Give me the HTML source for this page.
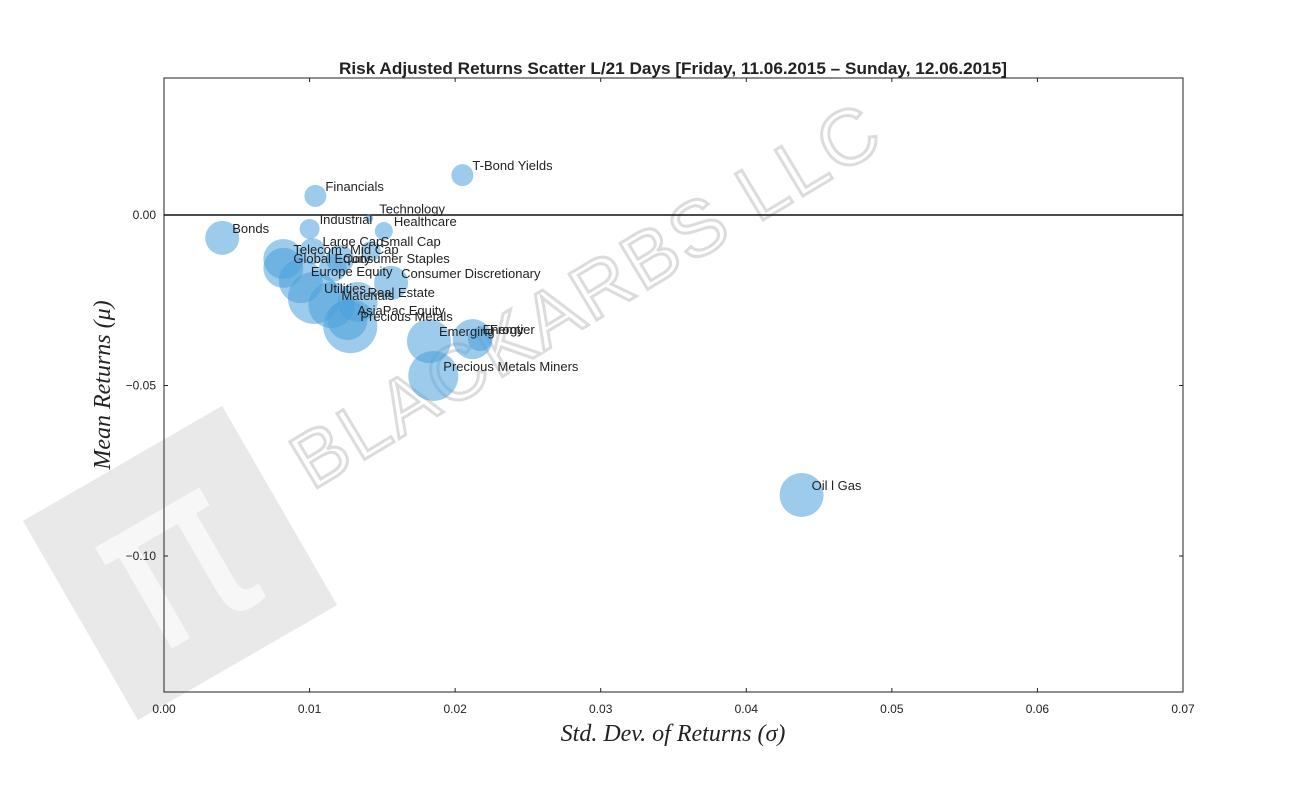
<!DOCTYPE html>
<html><head><meta charset="utf-8"><style>
body{margin:0;background:#fff}
svg{display:block;font-family:"Liberation Sans",sans-serif}
</style></head><body>
<svg id="chart" width="1314" height="792">
<g transform="translate(180,563) rotate(-30)">
<rect x="-115" y="-115" width="230" height="230" fill="#e9e9e9"/>
<text x="-5" y="70" text-anchor="middle" font-family="DejaVu Sans,sans-serif" font-size="230" fill="#f7f7f7">π</text>
</g>
<text transform="translate(600,318) rotate(-31)" text-anchor="middle" font-size="78" fill="none" stroke="#dcdcdc" stroke-width="3" letter-spacing="3">BLACKARBS LLC</text>
<text x="673" y="74" text-anchor="middle" font-size="17" font-weight="bold" fill="#222" textLength="668" lengthAdjust="spacingAndGlyphs">Risk Adjusted Returns Scatter L/21 Days [Friday, 11.06.2015 – Sunday, 12.06.2015]</text>
<rect x="164" y="78" width="1019" height="614" fill="none" stroke="#222" stroke-width="1"/>
<g id="axes"></g>
<g id="marks"></g>
<g id="labels"></g>
<text x="673" y="741" text-anchor="middle" font-family="Liberation Serif,serif" font-style="italic" font-size="24" fill="#222">Std. Dev. of Returns  (σ)</text>
<text transform="translate(110,385) rotate(-90)" text-anchor="middle" font-family="Liberation Serif,serif" font-style="italic" font-size="24" fill="#222">Mean Returns  (μ)</text>
</svg>
<script>
const names=["T-Bond Yields","Financials","Technology","Healthcare","Industrial","Bonds","Large Cap","Small Cap","Telecom","Mid Cap","Global Equity","Consumer Staples","Europe Equity","Consumer Discretionary","Utilities","Real Estate","Materials","AsiaPac Equity","Precious Metals","Emerging","Energy","Frontier","Precious Metals Miners","Oil l Gas"];
const stdDev=[0.0205,0.0104,0.0141,0.0151,0.0100,0.0040,0.0102,0.0142,0.0082,0.0121,0.0082,0.0116,0.0094,0.0156,0.0103,0.0133,0.0115,0.0126,0.0128,0.0182,0.0212,0.0217,0.0185,0.0438];
const meanRet=[0.0117,0.0056,-0.0010,-0.0047,-0.0041,-0.0067,-0.0106,-0.0106,-0.0129,-0.0129,-0.0155,-0.0155,-0.0194,-0.0199,-0.0243,-0.0255,-0.0264,-0.0308,-0.0326,-0.0370,-0.0364,-0.0364,-0.0472,-0.0821];
const sizes=[11,11,4,9,10,17,13,10,20,14,20,14,22,17,26,20,23,20,27,22,20,12,25,22];
const xTicks=[0,0.01,0.02,0.03,0.04,0.05,0.06,0.07];
const yTicks=[0,-0.05,-0.10];
const yTickLabels=["0.00","−0.05","−0.10"];
const X=v=>164+v/0.07*1019;
const Y=v=>215-v*3410;
const NS="http://www.w3.org/2000/svg";
function mk(t,a,p){const e=document.createElementNS(NS,t);for(const k in a)e.setAttribute(k,a[k]);p.appendChild(e);return e;}
const ax=document.getElementById('axes'),mg=document.getElementById('marks'),lg=document.getElementById('labels');
xTicks.forEach(t=>{
 mk('line',{x1:X(t),x2:X(t),y1:692,y2:688,stroke:'#222'},ax);
 mk('line',{x1:X(t),x2:X(t),y1:78,y2:82,stroke:'#222'},ax);
 const tx=mk('text',{x:X(t),y:713,'text-anchor':'middle','font-size':12,fill:'#222'},ax);
 tx.textContent=t.toFixed(2);
 
 
});
yTicks.forEach((t,i)=>{
 mk('line',{x1:164,x2:168,y1:Y(t),y2:Y(t),stroke:'#222'},ax);
 mk('line',{x1:1183,x2:1179,y1:Y(t),y2:Y(t),stroke:'#222'},ax);
 const tx=mk('text',{x:156,y:Y(t)+4,'text-anchor':'end','font-size':12,fill:'#222'},ax);
 tx.textContent=yTickLabels[i];
 
 
});
const zl=mk('line',{x1:164,x2:1183,y1:Y(0),y2:Y(0),stroke:'#111','stroke-width':1.5},ax);


names.forEach((n,i)=>{
 const c=mk('circle',{cx:X(stdDev[i]),cy:Y(meanRet[i]),r:sizes[i],fill:'#4aa0dc','fill-opacity':0.55},mg);
 
 
 const t=mk('text',{x:X(stdDev[i])+10,y:Y(meanRet[i])-5,'font-size':13,fill:'#222'},lg);
 t.textContent=n;
 
 
});
</script>
</body></html>
